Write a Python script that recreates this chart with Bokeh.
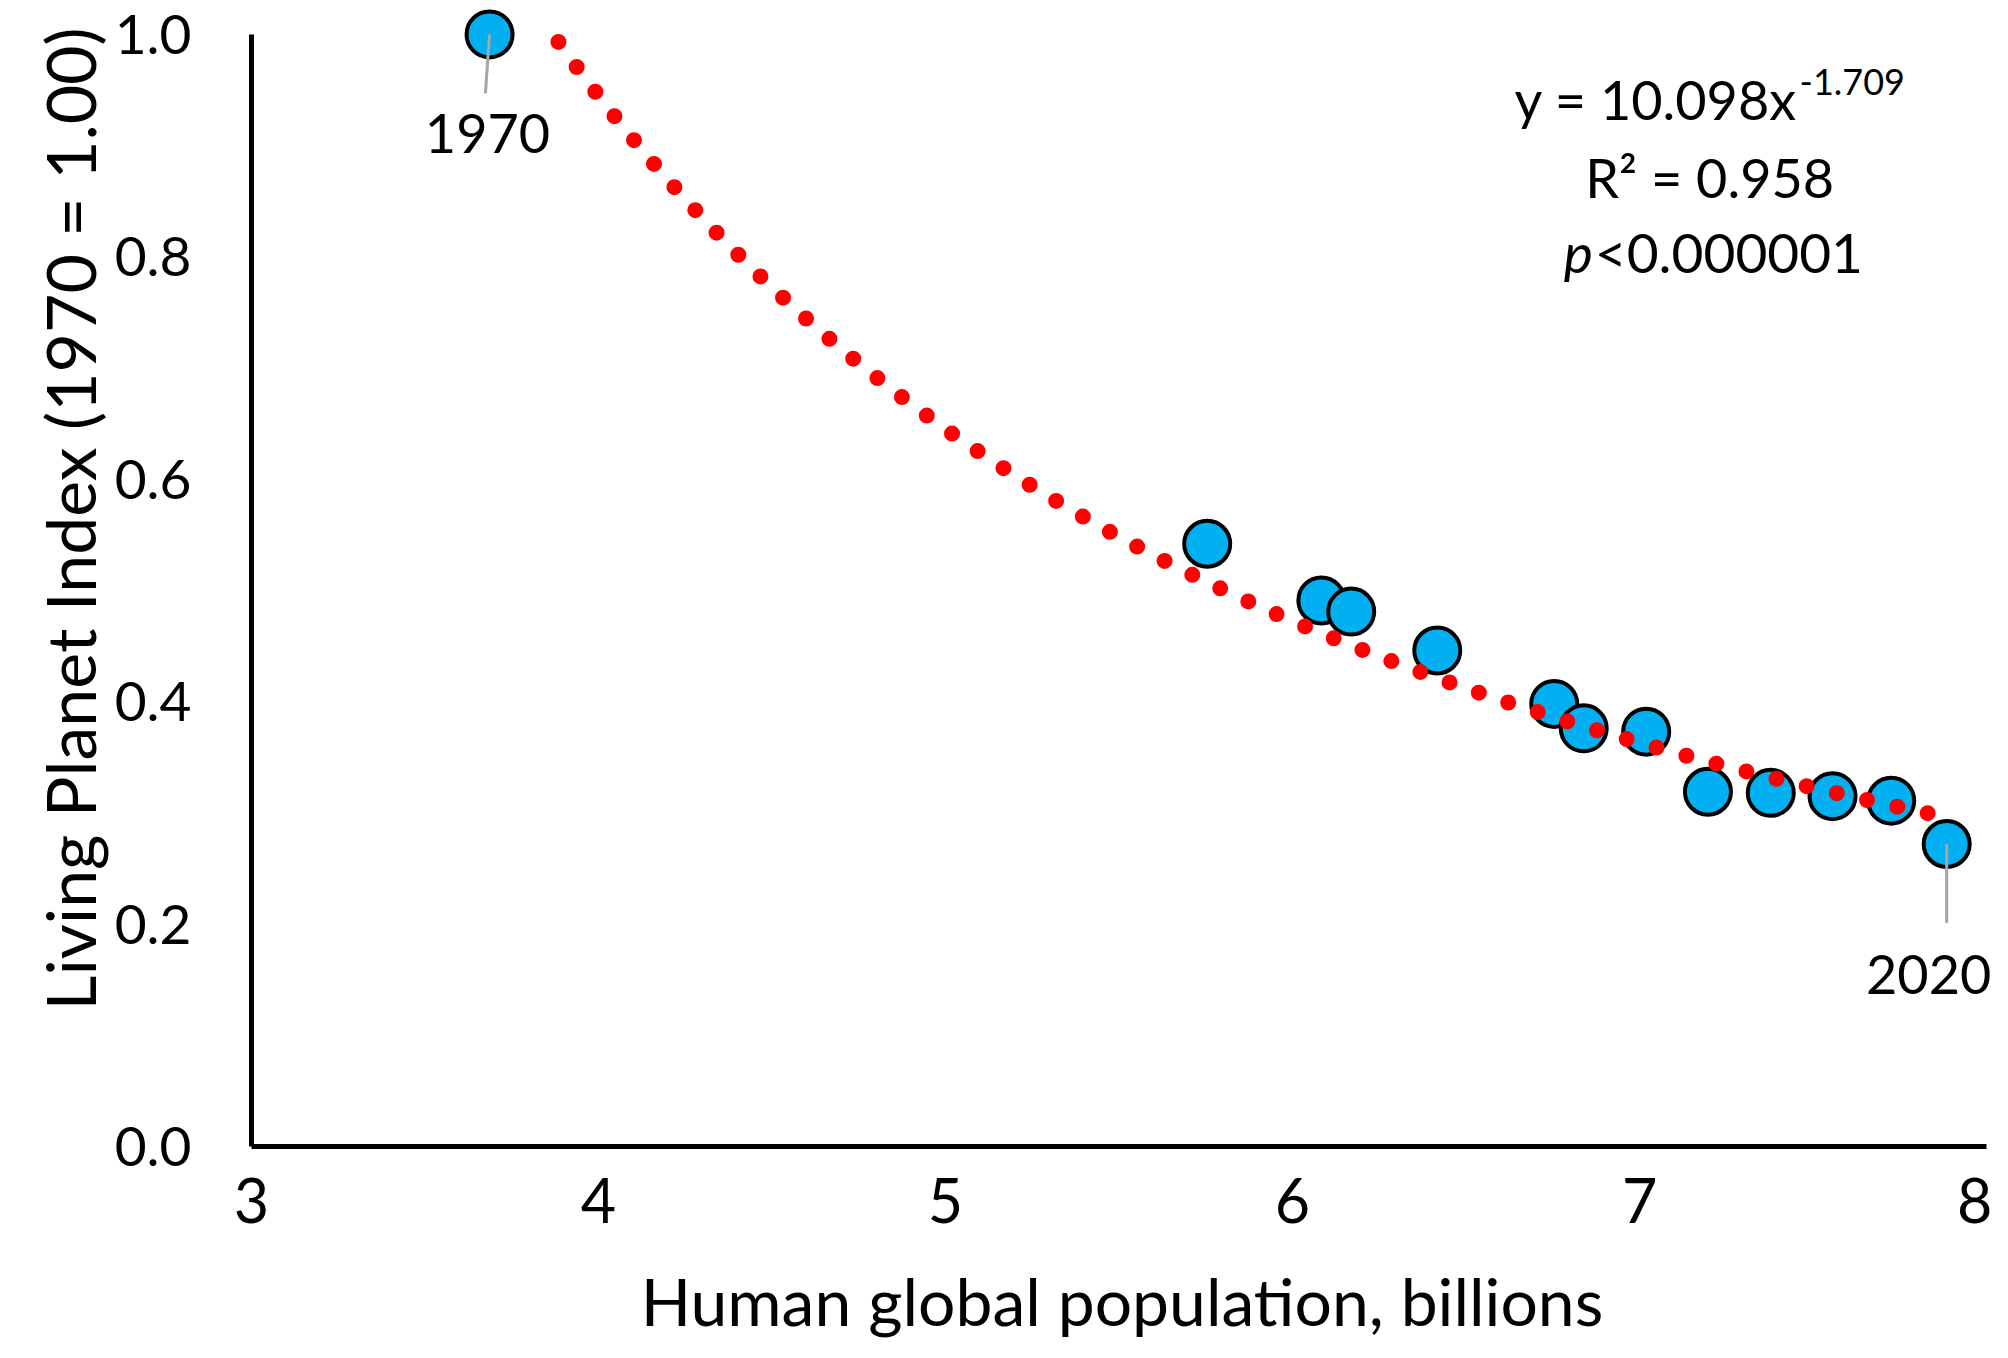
import numpy as np
from bokeh.plotting import figure
from bokeh.models import Range1d, FixedTicker, NumeralTickFormatter, Label, Title
from bokeh.embed import file_html
from bokeh.resources import INLINE

# Human global population (billions) against the Living Planet Index (1970 = 1.00)
population = [3.686, 5.754, 6.083, 6.169, 6.417, 6.754, 6.839, 7.019, 7.197, 7.378, 7.556, 7.725, 7.885]
lpi = [1.000, 0.542, 0.491, 0.481, 0.446, 0.398, 0.376, 0.373, 0.319, 0.318, 0.315, 0.311, 0.272]
first_year = "1970"
last_year = "2020"

# power trendline printed on the chart: y = a * x^b
fit_a = 10.098
fit_b = -1.709
fit_r2 = "0.958"
fit_p = "0.000001"

x_ticks = [3, 4, 5, 6, 7, 8]
y_ticks = [0.0, 0.2, 0.4, 0.6, 0.8, 1.0]

FONT = "Lato"

p = figure(width=1992, height=1342, x_range=Range1d(3, 8.017), y_range=Range1d(0, 1.0305),
           output_backend="svg", toolbar_location=None,
           min_border_left=251, min_border_right=0, min_border_top=0, min_border_bottom=195)
p.xgrid.grid_line_color = None
p.ygrid.grid_line_color = None
p.outline_line_color = None
p.background_fill_color = "white"
p.border_fill_color = "white"

p.xaxis.ticker = FixedTicker(ticks=x_ticks)
p.yaxis.ticker = FixedTicker(ticks=y_ticks)
p.xaxis.formatter = NumeralTickFormatter(format="0")
p.yaxis.formatter = NumeralTickFormatter(format="0.0")
for ax in (p.xaxis[0], p.yaxis[0]):
    ax.axis_line_width = 5
    ax.axis_line_color = "black"
    ax.major_tick_line_color = None
    ax.minor_tick_line_color = None
    ax.major_tick_in = 0
    ax.major_tick_out = 0
    ax.major_label_text_font = FONT
    ax.major_label_text_color = "black"
p.xaxis.bounds = (3, 8)
p.yaxis.bounds = (0, 1.0)
p.xaxis.major_label_text_font_size = "61px"
p.xaxis.major_label_standoff = 31
p.yaxis.major_label_text_font_size = "55px"
p.yaxis.major_label_standoff = 60

p.xaxis.axis_label = "Human global population, billions"
p.xaxis.axis_label_text_font = FONT
p.xaxis.axis_label_text_font_size = "66px"
p.xaxis.axis_label_text_font_style = "normal"
p.xaxis.axis_label_text_color = "black"
p.xaxis.axis_label_standoff = 35

# value axis title, starting a bit above the bottom of the axis as in the original
p.add_layout(Title(text="Living Planet Index (1970 = 1.00)", align="left", offset=136,
                   vertical_align="top", standoff=0,
                   text_font=FONT, text_font_size="68px", text_font_style="normal",
                   text_color="black"), "left")

# points
p.scatter(population, lpi, size=46, fill_color="#00B0F0", line_color="black", line_width=4)

# dotted trendline, clipped at the top of the value axis like the original
tx = np.linspace(min(population), max(population), 500)
ty = fit_a * tx ** fit_b
keep = ty <= 1.0
p.line(tx[keep], ty[keep], line_color="#FF0000", line_width=16, line_dash="0 31",
       line_cap="round", line_dash_offset=23)

# leader lines for the first and last year
p.segment(x0=[population[0], population[-1]], y0=[lpi[0], lpi[-1]],
          x1=[population[0] - 0.012, population[-1]], y1=[lpi[0] - 0.053, lpi[-1] - 0.071],
          line_color="#A6A6A6", line_width=3)

def add_text(x, y, text, size, align="center", style="normal"):
    p.add_layout(Label(x=x, y=y, text=text, text_font=FONT, text_font_size=size,
                       text_align=align, text_baseline="middle", text_font_style=style,
                       text_color="black"))

add_text(population[0] - 0.006, lpi[0] - 0.089, first_year, "54px")
add_text(population[-1] - 0.052, lpi[-1] - 0.117, last_year, "54px")

# fit statistics
add_text(7.455, 0.9411, "y = %.3fx" % fit_a, "54px", align="right")
add_text(7.461, 0.9569, "%.3f" % fit_b, "36px", align="left")
add_text(7.202, 0.8715, "R\u00b2 = " + fit_r2, "54px")
add_text(6.865, 0.8046, "p", "55px", align="right", style="italic")
add_text(6.871, 0.8046, "<" + fit_p, "55px", align="left")

open("out.html", "w").write(file_html(p, INLINE))
